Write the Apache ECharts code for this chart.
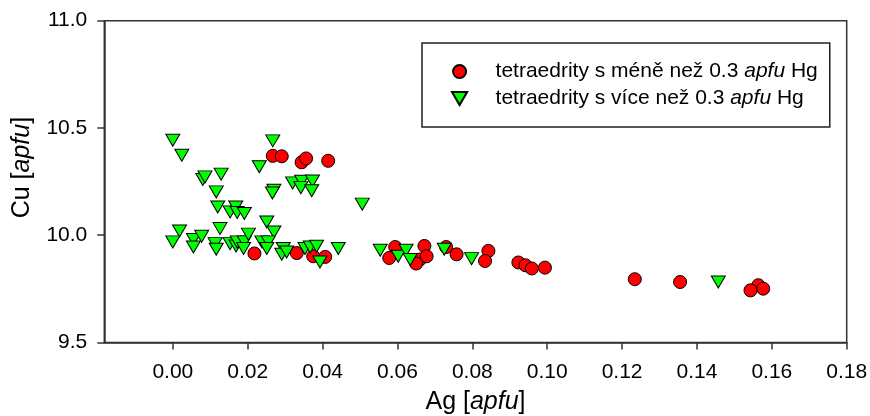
<!DOCTYPE html>
<html>
<head>
<meta charset="utf-8">
<script src="https://cdn.jsdelivr.net/npm/echarts@6/dist/echarts.min.js"></script>
<style>html,body{margin:0;padding:0;background:#fff}#c{width:870px;height:416px}</style>
</head>
<body>
<div id="c"></div>
<script>
// Series 1: tetraedrity s méně než 0.3 apfu Hg (red circles)
const lowHgAg = [0.0267,0.0291,0.0344,0.0356,0.0415,0.0218,0.0331,0.0375,0.0407,0.0594,0.0578,0.0672,0.0660,0.0650,0.0678,0.0730,0.0758,0.0843,0.0834,0.0923,0.0942,0.0959,0.0994,0.1234,0.1355,0.1564,0.1577,0.1543];
const lowHgCu = [10.370,10.368,10.340,10.358,10.347,9.915,9.917,9.902,9.899,9.945,9.894,9.950,9.887,9.868,9.902,9.945,9.911,9.927,9.880,9.873,9.860,9.845,9.849,9.795,9.782,9.767,9.751,9.743];
// Series 2: tetraedrity s více než 0.3 apfu Hg (green triangles)
const highHgAg = [0.000,0.0024,0.0080,0.0086,0.0129,0.0116,0.0267,0.0231,0.0270,0.0266,0.0320,0.0344,0.0342,0.0373,0.0371,0.0120,0.0153,0.0168,0.0172,0.0191,0.0251,0.0270,0.0018,0.000,0.0055,0.0077,0.0055,0.0126,0.0113,0.0116,0.0153,0.0169,0.0172,0.0191,0.0189,0.0202,0.0238,0.0255,0.0251,0.0295,0.0291,0.0304,0.0353,0.0367,0.0384,0.0393,0.0442,0.0506,0.0554,0.0602,0.0623,0.0634,0.0725,0.0798,0.1457];
const highHgCu = [10.443,10.373,10.260,10.272,10.285,10.202,10.440,10.319,10.210,10.197,10.244,10.252,10.222,10.253,10.207,10.132,10.109,10.132,10.106,10.101,10.062,10.015,10.020,9.969,9.980,9.995,9.945,10.031,9.961,9.935,9.961,9.950,9.969,9.969,9.938,10.005,9.969,9.969,9.938,9.938,9.911,9.922,9.938,9.945,9.949,9.875,9.938,10.145,9.930,9.902,9.930,9.887,9.935,9.891,9.782];
const xTicks = [0.00,0.02,0.04,0.06,0.08,0.10,0.12,0.14,0.16,0.18];
const seriesNames = ['tetraedrity s méně než 0.3 apfu Hg','tetraedrity s více než 0.3 apfu Hg'];

const FONT = 'Liberation Sans, Arial, sans-serif';
const AX = '#333';
const triPath = 'path://M0,0L14,0L7,12Z';
const pairs = (xs, ys) => xs.map((x, i) => [x, ys[i]]);

const chart = echarts.init(document.getElementById('c'), null, {renderer: 'canvas'});
chart.setOption({
  animation: false,
  backgroundColor: '#fff',
  grid: {left: 104.3, right: 23.3, top: 20.7, bottom: 73.5, show: true, borderColor: AX, borderWidth: 1.5, containLabel: false, outerBoundsMode: 'none'},
  legend: {
    orient: 'vertical', left: 422, top: 43,
    padding: [18, 12, 18, 29],
    itemWidth: 62, itemHeight: 13, itemGap: 6,
    borderColor: '#222', borderWidth: 1.5, backgroundColor: '#fff',
    textStyle: {
      fontFamily: FONT, fontSize: 21, color: '#000',
      rich: {n: {fontFamily: FONT, fontSize: 21, color: '#000'}, i: {fontFamily: FONT, fontSize: 21, color: '#000', fontStyle: 'italic'}}
    },
    formatter: function (name) {
      const p = name.split('apfu');
      return '{n|' + p[0] + '}{i|apfu}{n|' + p[1] + '}';
    },
    data: seriesNames
  },
  xAxis: {
    type: 'value', min: -0.0183, max: 0.18,
    axisLine: {show: true, onZero: false, lineStyle: {color: AX, width: 1.5}},
    axisTick: {show: true, inside: false, length: 7, lineStyle: {color: AX, width: 1.5}, customValues: xTicks},
    axisLabel: {customValues: xTicks, formatter: v => v.toFixed(2), fontFamily: FONT, fontSize: 21, color: '#000', margin: 19},
    splitLine: {show: false},
    name: '{n|Ag [}{i|apfu}{n|]}', nameLocation: 'middle', nameGap: 47,
    nameTextStyle: {rich: {n: {fontFamily: FONT, fontSize: 25, color: '#000'}, i: {fontFamily: FONT, fontSize: 25, color: '#000', fontStyle: 'italic'}}}
  },
  yAxis: {
    type: 'value', min: 9.5, max: 11.0, interval: 0.5,
    axisLine: {show: true, onZero: false, lineStyle: {color: AX, width: 1.5}},
    axisTick: {show: true, inside: false, length: 7, lineStyle: {color: AX, width: 1.5}},
    axisLabel: {formatter: v => v.toFixed(1), fontFamily: FONT, fontSize: 21, color: '#000', margin: 17},
    splitLine: {show: false},
    name: '{n|Cu [}{i|apfu}{n|]}', nameLocation: 'middle', nameGap: 70, nameRotate: 90,
    nameTextStyle: {padding: [0, 0, 0, 28], rich: {n: {fontFamily: FONT, fontSize: 25, color: '#000'}, i: {fontFamily: FONT, fontSize: 25, color: '#000', fontStyle: 'italic'}}}
  },
  series: [
    {
      name: seriesNames[0], type: 'scatter', symbol: 'circle', symbolSize: 13,
      itemStyle: {color: '#ff0000', borderColor: '#000', borderWidth: 1, opacity: 1},
      data: pairs(lowHgAg, lowHgCu), z: 2
    },
    {
      name: seriesNames[1], type: 'scatter', symbol: triPath, symbolSize: [14, 12],
      itemStyle: {color: '#00ff00', borderColor: '#000', borderWidth: 1, opacity: 1},
      data: pairs(highHgAg, highHgCu), z: 3
    }
  ]
});
</script>
</body>
</html>
